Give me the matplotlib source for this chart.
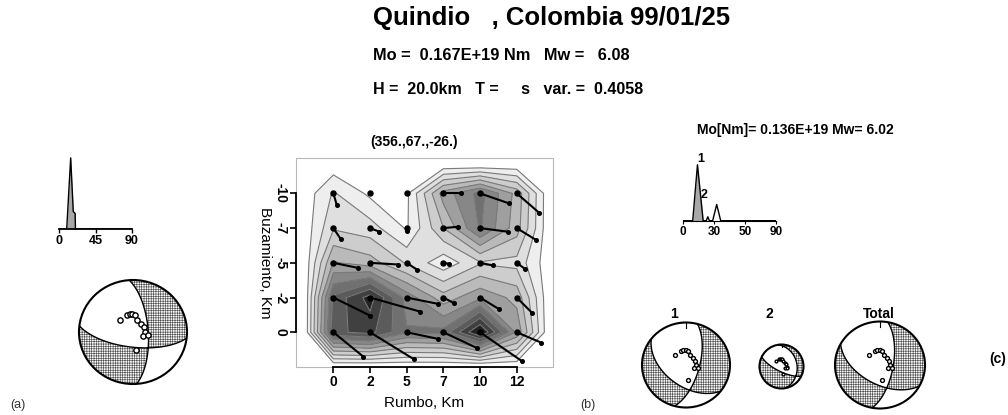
import numpy as np
import matplotlib
matplotlib.use("Agg")
import matplotlib.pyplot as plt
from matplotlib.patches import Circle, Rectangle

plt.rcParams['font.family'] = ['Liberation Sans', 'DejaVu Sans']
plt.rcParams['hatch.color'] = '#505050'
plt.rcParams['hatch.linewidth'] = 0.45

W, H = 1008, 415

# --- slip model (panel b) ---
strike_km = [0, 2.5, 5, 7.5, 10, 12.5]
dip_km = [-10, -7.5, -5, -2.5, 0]
slip = np.array([
    [0.15, 0.03, 0.03, 0.45, 0.62, 0.38],
    [0.22, 0.18, 0.04, 0.32, 0.60, 0.36],
    [0.42, 0.36, 0.22, 0.08, 0.22, 0.20],
    [0.70, 0.90, 0.55, 0.36, 0.48, 0.38],
    [0.75, 0.80, 0.60, 0.62, 0.97, 0.48],
])
# zero border used to close the contours
strike_pad = [-1.9] + strike_km + [14.6]
dip_pad = [-12.0] + dip_km + [2.35]

# slip vectors (km on the plot)
slip_dx = np.array([
    [0.23, 0.00, 0.00, 1.18, 1.98, 1.52],
    [0.50, 0.64, 0.00, 1.00, 1.91, 1.30],
    [1.66, 1.93, 0.68, 0.39, 0.91, 0.55],
    [2.50, 3.41, 2.16, 0.73, 1.30, 1.07],
    [2.05, 3.00, 2.16, 2.32, 2.84, 1.68],
])
slip_dy = np.array([
    [0.84, 0.00, 0.00, 0.00, 0.72, 1.39],
    [0.79, 0.26, 0.19, -0.10, 0.26, 0.84],
    [0.36, 0.12, 0.48, 0.07, 0.19, 0.43],
    [1.30, 1.01, 0.46, 0.41, 0.84, 1.13],
    [1.76, 1.95, 0.48, 1.15, 2.07, 0.75],
])

# --- source time functions ---
stf_a_t = [0, 9.5, 14.4, 17.6, 19.9, 20.3, 90]
stf_a_amp = [0, 0, 1.0, 0.245, 0.22, 0, 0]
stf_c_t = [0, 9.4, 14.0, 19.5, 22.5, 24.0, 25.5, 28.7, 32.6, 36.5, 90]
stf_c_amp = [0, 0, 1.0, 0.0, 0.0, 0.07, 0.0, 0.0, 0.29, 0.0, 0]

# --- focal mechanisms (strike, dip, rake) ---
mech_a = (356, 67, -26)
mech_c1 = (15, 65, -45)
mech_c2 = (350, 30, -40)
mech_tot = (10, 66, -40)

# station positions on the focal sphere (projected)
sta_x = [-0.25, -0.12, -0.06, -0.01, 0.04, 0.08, 0.15, 0.20, 0.23, 0.18, 0.27, 0.05]
sta_y = [0.24, 0.32, 0.35, 0.35, 0.33, 0.24, 0.16, 0.10, 0.00, -0.08, -0.06, -0.35]


def rect(x0, y0, x1, y1):
    return [x0 / W, 1 - y1 / H, (x1 - x0) / W, (y1 - y0) / H]


def ftext(x, y, s, **kw):
    fig.text(x / W, 1 - y / H, s, **kw)


def beachball(cx, cy, rx, ry, mech, ms, tick=True):
    ax = fig.add_axes(rect(cx - 1.1 * rx, cy - 1.1 * ry, cx + 1.1 * rx, cy + 1.1 * ry))
    ax.set_xlim(-1.1, 1.1)
    ax.set_ylim(-1.1, 1.1)
    ax.axis('off')
    g = np.linspace(-1.05, 1.05, 401)
    X, Y = np.meshgrid(g, g)
    rho = np.clip(np.hypot(X, Y), 0, 1)
    inc = 2 * np.arcsin(rho / np.sqrt(2))
    az = np.arctan2(X, Y)
    rN = np.sin(inc) * np.cos(az)
    rE = np.sin(inc) * np.sin(az)
    rD = np.cos(inc)
    phi, dl, lam = np.radians(mech)
    n = (-np.sin(dl) * np.sin(phi), np.sin(dl) * np.cos(phi), -np.cos(dl))
    d = (np.cos(lam) * np.cos(phi) + np.sin(lam) * np.cos(dl) * np.sin(phi),
         np.cos(lam) * np.sin(phi) - np.sin(lam) * np.cos(dl) * np.cos(phi),
         -np.sin(lam) * np.sin(dl))
    A = (rN * n[0] + rE * n[1] + rD * n[2]) * (rN * d[0] + rE * d[1] + rD * d[2])
    circ = Circle((0, 0), 1, fc='white', ec='none')
    ax.add_patch(circ)
    cs = ax.contourf(X, Y, A, levels=[0, A.max() + 1], colors='none', hatches=['+++++++'])
    cs.set_clip_path(circ)
    cl = ax.contour(X, Y, A, levels=[0], colors='k', linewidths=1.0)
    cl.set_clip_path(circ)
    ax.add_patch(Circle((0, 0), 1, fc='none', ec='k', lw=1.5))
    if tick:
        ax.plot([0, 0], [1, 0.88], color='k', lw=0.8)
    ax.plot(sta_x, sta_y, 'o', mfc='white', mec='k', ms=ms, mew=1.0)
    return ax


fig = plt.figure(figsize=(W / 100, H / 100), dpi=100)

# --- header ---
ftext(373, 18, 'Quindio   , Colombia 99/01/25', fontsize=18.5, fontweight='bold', va='center')
ftext(373, 55, 'Mo =  0.167E+19 Nm   Mw =   6.08', fontsize=11.8, fontweight='bold', va='center')
ftext(373, 90, 'H =  20.0km   T =     s   var. =  0.4058', fontsize=11.5, fontweight='bold', va='center')

# --- panel (a) ---
ax = fig.add_axes(rect(59, 155, 132, 229))
ax.fill_between(stf_a_t, stf_a_amp, color='#a8a8a8', lw=0)
ax.plot(stf_a_t, stf_a_amp, color='k', lw=1.0)
ax.set_xlim(0, 90)
ax.set_ylim(0, 1.04)
for s in ['top', 'right', 'left']:
    ax.spines[s].set_visible(False)
ax.spines['bottom'].set_linewidth(1.3)
ax.set_yticks([])
ax.set_xticks([0, 45, 90])
ax.tick_params(axis='x', length=3, width=1, pad=1, labelsize=9)
for lb in ax.get_xticklabels():
    lb.set_fontweight('bold')

beachball(133, 332, 54, 52, mech_a, 3.8, tick=False)
ftext(18, 405, '(a)', fontsize=9, va='center', ha='center', color='#333333')

# --- panel (b) ---
ax = fig.add_axes(rect(296, 158, 553, 367))
levels = [0.05, 0.14, 0.23, 0.32, 0.41, 0.5, 0.59, 0.68, 0.77, 0.86, 1.0]
Z = np.zeros((len(dip_pad), len(strike_pad)))
Z[1:-1, 1:-1] = slip
cols = plt.cm.Greys(np.linspace(0.14, 0.88, len(levels) - 1))
ax.contourf(strike_pad, dip_pad, Z, levels=levels, colors=cols)
ax.contour(strike_pad, dip_pad, Z, levels=levels[:-1], colors='#7a7a7a', linewidths=0.8)
SX, SY = np.meshgrid(strike_km, dip_km)
for x0, y0, dx, dy in zip(SX.ravel(), SY.ravel(), slip_dx.ravel(), slip_dy.ravel()):
    ax.plot([x0, x0 + dx], [y0, y0 + dy], color='k', lw=1.5, solid_capstyle='round')
    if dx != 0 or dy != 0:
        ax.plot(x0 + dx, y0 + dy, 'o', color='k', ms=2.6)
ax.plot(SX.ravel(), SY.ravel(), 'o', color='k', ms=3.6)
ax.set_xlim(-2.55, 14.97)
ax.set_ylim(2.5, -12.55)
ax.set_xticks(strike_km)
ax.set_xticklabels([str(int(v)) for v in strike_km], fontweight='bold', fontsize=10)
ax.set_yticks(dip_km)
ax.set_yticklabels([str(int(v)) for v in dip_km], fontweight='bold', fontsize=10,
                   rotation=-90, va='center')
ax.spines['top'].set_visible(False)
ax.spines['right'].set_visible(False)
ax.spines['left'].set_bounds(-10, 0)
ax.spines['bottom'].set_bounds(0, 12.5)
for s in ['left', 'bottom']:
    ax.spines[s].set_linewidth(1.3)
ax.tick_params(length=4, width=1.2, pad=2)
ax.add_patch(Rectangle((0, 0), 1, 1, transform=ax.transAxes, fill=False,
                       ec='#b8b8b8', lw=0.8, clip_on=False))
ax.set_xlabel('Rumbo, Km', fontsize=11, labelpad=5)
ax.set_ylabel('Buzamiento, Km', fontsize=11, rotation=-90, labelpad=11)
ftext(414, 142, '(356.,67.,-26.)', fontsize=10, fontweight='bold', ha='center', va='center')
ftext(588, 405, '(b)', fontsize=9, va='center', ha='center', color='#333333')

# --- panel (c) ---
ftext(795, 130, 'Mo[Nm]= 0.136E+19 Mw= 6.02', fontsize=10, fontweight='bold', ha='center', va='center')
ax = fig.add_axes(rect(683, 162, 776, 220.7))
t = np.array(stf_c_t)
a = np.array(stf_c_amp)
ax.fill_between(t, a, where=t <= 20, color='#a8a8a8', lw=0)
ax.plot(t, a, color='k', lw=1.0)
ax.set_xlim(0, 90)
ax.set_ylim(0, 1.05)
for s in ['top', 'right', 'left']:
    ax.spines[s].set_visible(False)
ax.set_yticks([])
ax.set_xticks([0, 30, 60, 90])
ax.set_xticklabels(['0', '30', '50', '90'], fontweight='bold')
ax.tick_params(axis='x', length=2.5, width=0.8, pad=1, labelsize=8.5)
ax.text(stf_c_t[2], stf_c_amp[2], '1', fontsize=9, fontweight='bold', ha='left', va='bottom')
ax.text(17.5, 0.46, '2', fontsize=9, fontweight='bold', ha='left', va='center')

beachball(686, 365, 44, 42.5, mech_c1, 2.8)
beachball(781.5, 366.5, 22, 22, mech_c2, 2.0)
beachball(880, 365, 45, 43.5, mech_tot, 2.8)
ftext(670, 314, '1', fontsize=10, fontweight='bold', va='center')
ftext(766, 314, '2', fontsize=10, fontweight='bold', va='center')
ftext(863, 314, 'Total', fontsize=10, fontweight='bold', va='center')
ftext(998, 359, '(c)', fontsize=10, fontweight='bold', va='center', ha='center')

fig.savefig('out.png', dpi=100)
